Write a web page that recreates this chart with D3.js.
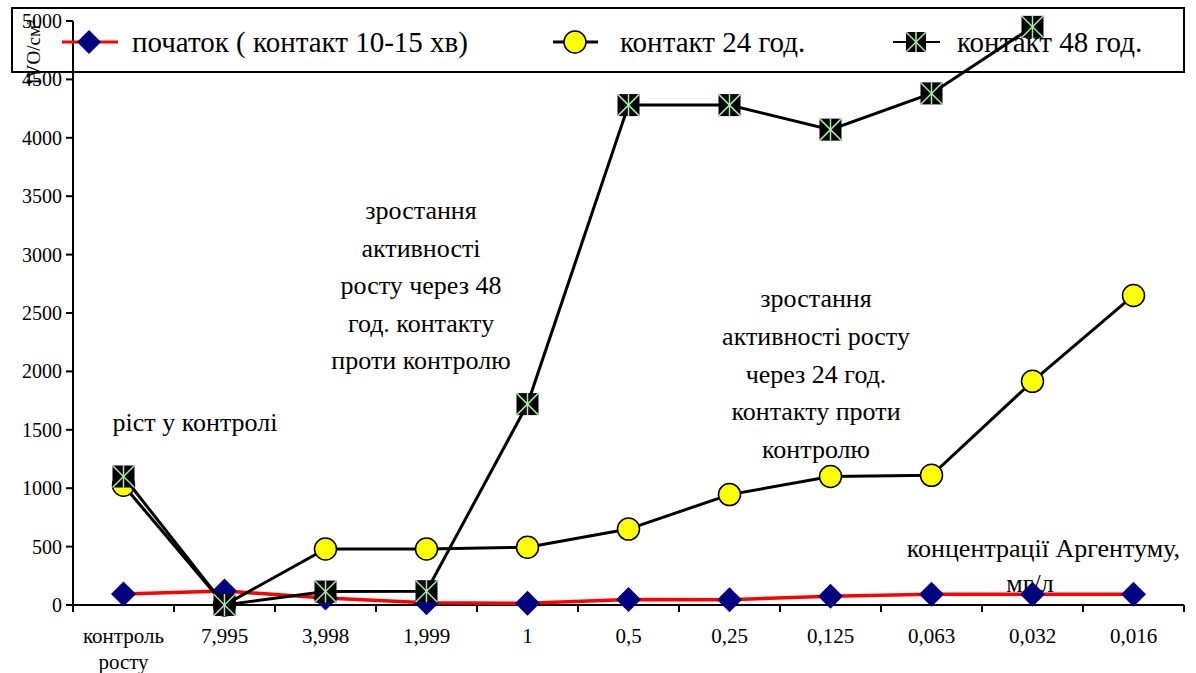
<!DOCTYPE html>
<html><head><meta charset="utf-8">
<script src="https://cdn.jsdelivr.net/npm/d3@7/dist/d3.min.js"></script>
<style>body{margin:0;background:#fff;font-family:'Liberation Serif',serif}svg text{font-family:'Liberation Serif',serif}</style>
</head><body>
<script>
const categories = ["контроль\nросту","7,995","3,998","1,999","1","0,5","0,25","0,125","0,063","0,032","0,016"];
const startValues = [95,120,60,20,15,48,45,75,92,92,92];
const contact24 = [1025,0,480,480,495,650,945,1100,1110,1915,2650];
const contact48 = [1100,0,115,118,1720,4280,4280,4070,4380,4950,null];
const yTicks = [0,500,1000,1500,2000,2500,3000,3500,4000,4500,5000];
const seriesNames = ["початок ( контакт 10-15 хв)","контакт 24 год.","контакт 48 год."];
const yLabel = "IVO/см²";

const FF="'Liberation Serif', serif";
const W=1196,H=673;
const svg=d3.select("body").append("svg").attr("width",W).attr("height",H).style("font-family",FF);
const x=d3.scaleBand().domain(categories).range([73,1184]);
const y=d3.scaleLinear().domain([0,5000]).range([605,21]);
const cx=d=>x(d)+x.bandwidth()/2;

function txt(px,py,s,size,anchor){
  return svg.append("text").attr("x",px).attr("y",py).attr("text-anchor",anchor||"start").attr("font-size",size).style("font-family",FF).text(s);
}

// legend box (behind)
svg.append("rect").attr("x",12).attr("y",8).attr("width",1172).attr("height",64).attr("fill","#fff").attr("stroke","#000").attr("stroke-width",2);

// y axis
svg.append("line").attr("x1",73).attr("x2",73).attr("y1",y(5000)).attr("y2",y(0)).attr("stroke","#000").attr("stroke-width",2);
svg.selectAll("line.yt").data(yTicks).join("line").attr("class","yt").attr("x1",66).attr("x2",73).attr("y1",d=>y(d)).attr("y2",d=>y(d)).attr("stroke","#000").attr("stroke-width",2);
yTicks.forEach(v=>txt(62,y(v)+7,d3.format("d")(v),20,"end"));

// x axis
svg.append("line").attr("x1",73).attr("x2",1184).attr("y1",605).attr("y2",605).attr("stroke","#000").attr("stroke-width",2);
const bounds=categories.map(c=>x(c)).concat([x(categories[categories.length-1])+x.bandwidth()]);
svg.selectAll("line.xt").data(bounds).join("line").attr("class","xt").attr("x1",d=>d).attr("x2",d=>d).attr("y1",605).attr("y2",612).attr("stroke","#000").attr("stroke-width",2);
categories.forEach(c=>{
  c.split("\n").forEach((l,i)=>txt(cx(c),643+i*26,l,21,"middle"));
});

svg.append("text").attr("transform","translate(40,52) rotate(-90)").attr("text-anchor","middle").attr("font-size",19).style("font-family",FF).text(yLabel);

// markers
function diamond(g,px,py,s){g.append("path").attr("d",`M${px},${py-s}L${px+s},${py}L${px},${py+s}L${px-s},${py}Z`).attr("fill","#000080");}
function circle(g,px,py){g.append("circle").attr("cx",px).attr("cy",py).attr("r",11).attr("fill","#ffff00").attr("stroke","#000").attr("stroke-width",1.5);}
function square(g,px,py,s){
  g.append("rect").attr("x",px-s).attr("y",py-s).attr("width",2*s).attr("height",2*s).attr("fill","#000");
  const c="#a8eea8";
  g.append("line").attr("x1",px).attr("x2",px).attr("y1",py-s).attr("y2",py+s).attr("stroke",c).attr("stroke-width",1.5);
  g.append("line").attr("x1",px-s).attr("x2",px+s).attr("y1",py-s).attr("y2",py+s).attr("stroke",c).attr("stroke-width",1.5);
  g.append("line").attr("x1",px+s).attr("x2",px-s).attr("y1",py-s).attr("y2",py+s).attr("stroke",c).attr("stroke-width",1.5);
}

// legend entries
const ly=42;
const lg=svg.append("g");
lg.append("line").attr("x1",62).attr("x2",118).attr("y1",ly).attr("y2",ly).attr("stroke","#f00").attr("stroke-width",3);
diamond(lg,89,ly,12);
txt(132,ly+10,seriesNames[0],29);
lg.append("line").attr("x1",553).attr("x2",598).attr("y1",ly).attr("y2",ly).attr("stroke","#000").attr("stroke-width",3);
circle(lg,575,ly);
txt(620,ly+10,seriesNames[1],29);
lg.append("line").attr("x1",893).attr("x2",940).attr("y1",ly).attr("y2",ly).attr("stroke","#000").attr("stroke-width",2);
square(lg,916,ly,10);
txt(957,ly+10,seriesNames[2],29);

// annotations
function ann(lines,px,py,lh){lines.forEach((l,i)=>txt(px,py+i*lh,l,26,"middle"));}
ann(["ріст у контролі"],195,431,0);
ann(["зростання","активності","росту через 48","год. контакту","проти контролю"],421,219,37.5);
ann(["зростання","активності росту","через 24 год.","контакту проти","контролю"],816,307,37.8);
txt(1180,557,"концентрації Аргентуму,",26,"end");
txt(1030,592,"мг/л",26,"middle");

// series
const line=d3.line().x(d=>cx(d.c)).y(d=>y(d.v));
function data(arr){return categories.map((c,i)=>({c,v:arr[i]})).filter(d=>d.v!=null);}
const g1=svg.append("g");
g1.append("path").attr("d",line(data(startValues))).attr("fill","none").attr("stroke","#f00").attr("stroke-width",3.5);
data(startValues).forEach(d=>diamond(g1,cx(d.c),y(d.v),12.5));
const g2=svg.append("g");
g2.append("path").attr("d",line(data(contact24))).attr("fill","none").attr("stroke","#000").attr("stroke-width",3);
data(contact24).forEach(d=>circle(g2,cx(d.c),y(d.v)));
const g3=svg.append("g");
g3.append("path").attr("d",line(data(contact48))).attr("fill","none").attr("stroke","#000").attr("stroke-width",3);
data(contact48).forEach(d=>square(g3,cx(d.c),y(d.v),11));
</script>
</body></html>
